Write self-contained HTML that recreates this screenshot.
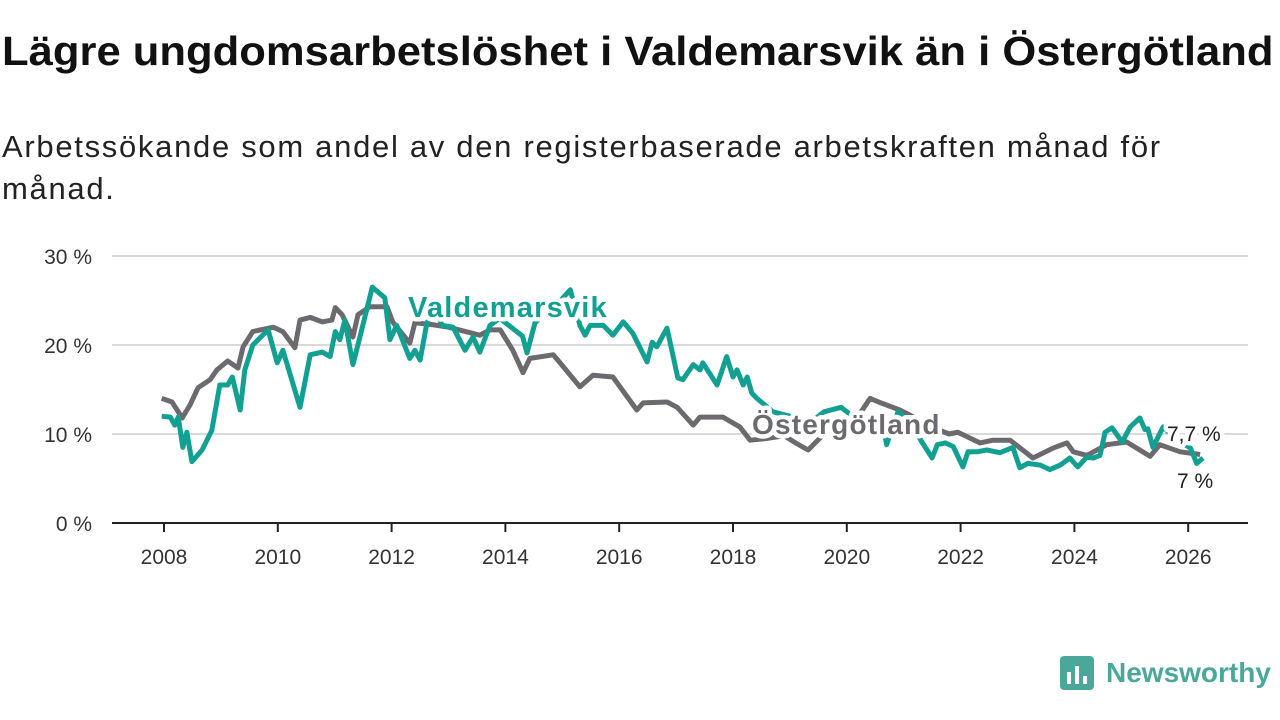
<!DOCTYPE html>
<html><head><meta charset="utf-8">
<style>
body{margin:0;background:#fff;width:1280px;height:720px;overflow:hidden;font-family:"Liberation Sans",sans-serif;}
h1{position:absolute;left:2px;top:28px;margin:0;font-size:41px;font-weight:bold;color:#111;white-space:nowrap;transform:scaleX(1.063);transform-origin:0 0}
.sub{position:absolute;left:2px;top:126px;margin:0;font-size:31px;color:#222;line-height:42px;width:1190px;letter-spacing:1.7px}
svg{position:absolute;left:0;top:0}
</style></head><body>
<h1>Lägre ungdomsarbetslöshet i Valdemarsvik än i Östergötland</h1>
<p class="sub">Arbetssökande som andel av den registerbaserade arbetskraften månad för månad.</p>
<svg id="chart" width="1280" height="720"></svg>
<script>
const yTicks=[0,10,20,30];
const yTickLabels=["0 %","10 %","20 %","30 %"];
const xTicks=[2008,2010,2012,2014,2016,2018,2020,2022,2024,2026];
const ostDates=[2007.96,2008.14,2008.32,2008.46,2008.60,2008.81,2008.93,2009.12,2009.30,2009.39,2009.56,2009.92,2010.09,2010.30,2010.39,2010.57,2010.78,2010.95,2011.01,2011.13,2011.32,2011.41,2011.62,2011.92,2012.02,2012.32,2012.41,2012.7,2013.0,2013.3,2013.55,2013.73,2013.91,2014.13,2014.31,2014.43,2014.84,2014.96,2015.31,2015.54,2015.89,2016.31,2016.42,2016.84,2017.02,2017.30,2017.42,2017.82,2018.12,2018.30,2018.6,2018.9,2019.1,2019.32,2019.6,2019.9,2020.2,2020.41,2020.6,2020.93,2021.3,2021.6,2021.8,2021.95,2022.34,2022.57,2022.87,2023.27,2023.62,2023.87,2023.98,2024.22,2024.57,2024.92,2025.33,2025.50,2025.86,2026.21];
const ostValues=[14.0,13.6,11.8,13.3,15.2,16.1,17.2,18.2,17.4,19.8,21.5,22.0,21.5,19.7,22.8,23.1,22.6,22.8,24.2,23.4,20.9,23.4,24.3,24.3,22.6,20.2,22.5,22.3,22.0,21.5,21.1,21.7,21.7,19.4,16.9,18.5,18.9,18.0,15.3,16.6,16.4,12.7,13.5,13.6,13.0,11.0,11.9,11.9,10.8,9.3,9.5,9.8,9.0,8.2,10.0,11.5,12.0,14.0,13.5,12.7,11.5,10.5,10.0,10.2,9.0,9.3,9.3,7.3,8.4,9.0,8.0,7.6,8.8,9.1,7.5,8.8,8.0,7.7];
const valDates=[2007.96,2008.11,2008.19,2008.25,2008.33,2008.40,2008.49,2008.67,2008.84,2008.98,2009.12,2009.20,2009.34,2009.42,2009.56,2009.83,2009.99,2010.09,2010.39,2010.57,2010.78,2010.92,2011.01,2011.09,2011.18,2011.32,2011.44,2011.66,2011.88,2011.97,2012.09,2012.32,2012.41,2012.50,2012.62,2012.76,2012.89,2013.08,2013.29,2013.43,2013.55,2013.73,2013.9,2014.1,2014.3,2014.38,2014.52,2014.7,2014.9,2015.14,2015.31,2015.40,2015.49,2015.72,2015.89,2016.07,2016.24,2016.49,2016.58,2016.66,2016.84,2017.03,2017.12,2017.30,2017.42,2017.47,2017.72,2017.89,2018.00,2018.07,2018.18,2018.25,2018.33,2018.42,2018.7,2019.0,2019.3,2019.6,2019.9,2020.1,2020.4,2020.6,2020.7,2020.9,2021.1,2021.32,2021.50,2021.59,2021.73,2021.87,2022.04,2022.13,2022.29,2022.46,2022.69,2022.92,2023.04,2023.18,2023.40,2023.57,2023.75,2023.92,2024.06,2024.22,2024.33,2024.45,2024.54,2024.66,2024.84,2024.98,2025.15,2025.24,2025.29,2025.38,2025.56,2025.77,2026.04,2026.15,2026.26];
const valValues=[12.0,11.9,11.0,11.9,8.5,10.2,6.9,8.2,10.4,15.5,15.5,16.4,12.7,17.2,20.0,21.7,18.0,19.4,13.0,18.9,19.2,18.7,21.5,20.6,22.8,17.8,20.8,26.5,25.3,20.6,22.2,18.5,19.4,18.3,22.5,24.0,22.2,22.0,19.4,20.9,19.2,22.2,23.0,22.0,21.0,19.1,22.5,23.5,24.5,26.2,22.2,21.1,22.2,22.2,21.1,22.6,21.3,18.1,20.3,19.8,21.9,16.3,16.1,17.8,17.2,18.0,15.5,18.7,16.4,17.2,15.5,16.4,14.6,14.0,12.5,12.0,11.0,12.5,13.0,12.0,11.5,12.5,8.8,12.5,11.5,9.1,7.3,8.8,9.0,8.6,6.3,8.0,8.0,8.2,7.9,8.5,6.2,6.7,6.5,6.0,6.5,7.3,6.3,7.4,7.3,7.6,10.2,10.7,9.1,10.8,11.8,10.5,10.6,8.5,10.8,9.5,8.4,6.7,7.3];
const NS="http://www.w3.org/2000/svg";
const svg=document.getElementById('chart');
const xS=t=>164+(t-2008)*56.9;
const yS=v=>523-v*8.9;
function mk(tag,attrs,parent){const e=document.createElementNS(NS,tag);for(const k in attrs)e.setAttribute(k,attrs[k]);(parent||svg).appendChild(e);return e;}
yTicks.forEach((v,i)=>{
  if(v>0){const g=mk('line',{x1:112,x2:1248,y1:yS(v),y2:yS(v),stroke:'#d9d9d9','stroke-width':2});
  
  }
  const t=mk('text',{x:92,y:yS(v)+8,'text-anchor':'end','font-size':21,fill:'#333','font-family':'Liberation Sans, sans-serif'});
  t.textContent=yTickLabels[i];
  
  
});
const ax=mk('line',{x1:112,x2:1248,y1:523,y2:523,stroke:'#222','stroke-width':2});


xTicks.forEach(yr=>{
  const tk=mk('line',{x1:xS(yr),x2:xS(yr),y1:523,y2:532,stroke:'#222','stroke-width':2});
  
  
  const t=mk('text',{x:xS(yr),y:564,'text-anchor':'middle','font-size':21,fill:'#333','font-family':'Liberation Sans, sans-serif'});
  t.textContent=yr;
  
  
});
function path(d,v){return d.map((t,i)=>(i?'L':'M')+xS(t).toFixed(1)+','+yS(v[i]).toFixed(1)).join('');}
const lo=mk('path',{d:path(ostDates,ostValues),fill:'none',stroke:'#6d6a6f','stroke-width':5,'stroke-linejoin':'round'});


const lv=mk('path',{d:path(valDates,valValues),fill:'none',stroke:'#12a092','stroke-width':5,'stroke-linejoin':'round'});


function lab(x,y,txt,col,name,size,weight,ls){
  const t=mk('text',{x:x,y:y,'font-size':size,'font-weight':weight,'letter-spacing':ls,fill:col,stroke:'#fff','stroke-width':9,'paint-order':'stroke','stroke-linejoin':'round','font-family':'Liberation Sans, sans-serif'});
  t.textContent=txt;
  
  
}
lab(408,317,'Valdemarsvik','#12a092','valdemarsvik-label',29,'bold',1.2);
lab(752,434,'Östergötland','#6d6a6f','ostergotland-label',28,'bold',1.2);
lab(1167,441,'7,7 %','#222','ostergotland-end-label',21,'normal',0);
lab(1177,488,'7 %','#222','valdemarsvik-end-label',21,'normal',0);
const lg=mk('g',{});


mk('rect',{x:1060,y:656,width:34,height:34,rx:4,fill:'#4aa89a'},lg);
mk('rect',{x:1067,y:672,width:4,height:12,fill:'#fff'},lg);
mk('rect',{x:1075,y:666,width:4,height:18,fill:'#fff'},lg);
mk('rect',{x:1083,y:676,width:4,height:8,fill:'#fff'},lg);
const lt=mk('text',{x:1106,y:682,'font-size':28,'font-weight':'bold',fill:'#4aa89a','font-family':'Liberation Sans, sans-serif'},lg);
lt.textContent='Newsworthy';
</script>
</body></html>
